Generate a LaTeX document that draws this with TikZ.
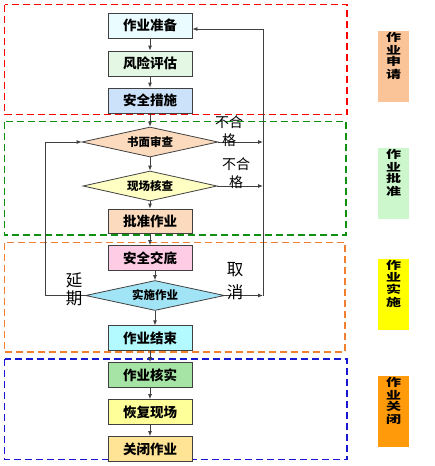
\documentclass[tikz,border=0pt]{standalone}
\usepackage{fontspec}
\usepackage{graphicx}
\newfontfamily\cjk{Noto Sans CJK SC}
\usetikzlibrary{shapes.geometric,arrows.meta}
\definecolor{redd}{HTML}{FF0000}
\definecolor{greend}{HTML}{109010}
\definecolor{oranged}{HTML}{F08030}
\definecolor{blued}{HTML}{1818D0}
\definecolor{edge}{HTML}{404040}
\begin{document}
\begin{tikzpicture}[x=1pt,y=-1pt,
  frame/.style={line width=1.4pt,dash pattern=on 7pt off 4pt},
  stepbox/.style={draw=edge,line width=0.8pt,minimum width=84pt,minimum height=25pt,inner sep=0pt,
    font=\cjk\bfseries\fontsize{13.5}{13.5}\selectfont},
  dia/.style={diamond,shape aspect=4.6,draw=edge,line width=0.8pt,minimum width=136pt,minimum height=30pt,inner sep=0pt,
    font=\cjk\bfseries\fontsize{11.5}{11.5}\selectfont},
  side/.style={minimum width=31pt,minimum height=71pt,inner sep=0pt},
  sidetxt/.style={font=\cjk\bfseries\fontsize{15}{15}\selectfont,inner sep=0pt},
  lbl/.style={font=\cjk\fontsize{14}{18}\selectfont,inner sep=0pt,align=center},
  lblb/.style={font=\cjk\fontsize{16.5}{18}\selectfont,inner sep=0pt},
  arr/.style={edge,line width=0.8pt,-{Latex[length=5pt,width=4pt]}},
  ln/.style={edge,line width=0.8pt}]
\useasboundingbox (0,0) rectangle (435,466);
% dashed frames
\draw[frame,redd] (4.5,4.5) rectangle (347,114.5);
\draw[frame,greend] (4.5,121.5) rectangle (346,235);
\draw[frame,oranged] (4.5,242.5) rectangle (345,352);
\draw[frame,blued] (4.5,359) rectangle (347,459.5);
% steps
\node[stepbox,fill={rgb,255:red,234;green,252;blue,255}] (n1) at (150,25.5) {作业准备};
\node[stepbox,fill={rgb,255:red,228;green,247;blue,228}] (n2) at (150,63.5) {风险评估};
\node[stepbox,fill={rgb,255:red,204;green,226;blue,250}] (n3) at (150,100.5) {安全措施};
\node[dia,fill={rgb,255:red,251;green,218;blue,190}] (d1) at (150,142) {书面审查};
\node[dia,minimum width=134pt,fill={rgb,255:red,255;green,255;blue,196}] (d2) at (150,186) {现场核查};
\node[stepbox,minimum height=24pt,fill={rgb,255:red,251;green,218;blue,190}] (n4) at (150,221) {批准作业};
\node[stepbox,fill={rgb,255:red,255;green,204;blue,230}] (n5) at (150,258) {安全交底};
\node[dia,minimum width=139pt,fill={rgb,255:red,160;green,228;blue,245}] (d3) at (155,295.5) {实施作业};
\node[stepbox,minimum height=24.5pt,fill={rgb,255:red,178;green,250;blue,255}] (n6) at (150,338) {作业结束};
\node[stepbox,fill={rgb,255:red,165;green,228;blue,165}] (n7) at (150,375) {作业核实};
\node[stepbox,fill={rgb,255:red,255;green,255;blue,153}] (n8) at (150,412) {恢复现场};
\node[stepbox,fill={rgb,255:red,255;green,228;blue,150}] (n9) at (150,449) {关闭作业};
% main arrows
\draw[arr] (n1) -- (n2);
\draw[arr] (n2) -- (n3);
\draw[arr] (n3) -- (d1);
\draw[arr] (d1) -- (d2);
\draw[arr] (d2) -- (n4);
\draw[arr] (n4) -- (n5);
\draw[arr] (d3.north |- n5.south) -- (d3.north);
\draw[arr] (d3.south) -- (d3.south |- n6.north);
\draw[arr] (n6) -- (n7);
\draw[arr] (n7) -- (n8);
\draw[arr] (n8) -- (n9);
% right loop
\coordinate (rt) at (263,29);
\coordinate (rb) at (263,295.5);
\draw[arr] (d1.east) -- (d1.east -| rb);
\draw[arr] (d2.east) -- (d2.east -| rb);
\draw[arr] (d3.east) -- (rb);
\draw[arr] (rb) -- (rt) -- (rt -| n1.east);
% left loop
\coordinate (lb) at (45,295.5);
\coordinate (lt) at (45,142);
\draw[arr] (d3.west) -- (lb) -- (lt) -- (d1.west);
% labels
\node[lbl] (l1) at (229,131.5) {不合\\格};
\node[lbl] (l2) at (236,173.5) {不合\\格};
\node[lblb] (l3a) at (235,269.5) {取};
\node[lblb] (l3b) at (235,292) {消};
\node[lblb] (l4a) at (74,280.5) {延};
\node[lblb] (l4b) at (74,298) {期};
% side labels
\node[side,fill={rgb,255:red,250;green,196;blue,152}] (s1) at (393.5,66.5) {};
\node[sidetxt] (t1) at (393.5,56) {\scalebox{1}[0.72]{\shortstack{作\\业\\申\\请}}};
\node[side,fill={rgb,255:red,204;green,247;blue,204}] (s2) at (393.5,183.5) {};
\node[sidetxt] (t2) at (393.5,173) {\scalebox{1}[0.72]{\shortstack{作\\业\\批\\准}}};
\node[side,fill={rgb,255:red,255;green,255;blue,0}] (s3) at (393.5,294) {};
\node[sidetxt] (t3) at (393.5,283.5) {\scalebox{1}[0.72]{\shortstack{作\\业\\实\\施}}};
\node[side,fill={rgb,255:red,255;green,154;blue,10}] (s4) at (393.5,411.5) {};
\node[sidetxt] (t4) at (393.5,401) {\scalebox{1}[0.72]{\shortstack{作\\业\\关\\闭}}};
\end{tikzpicture}
\end{document}
